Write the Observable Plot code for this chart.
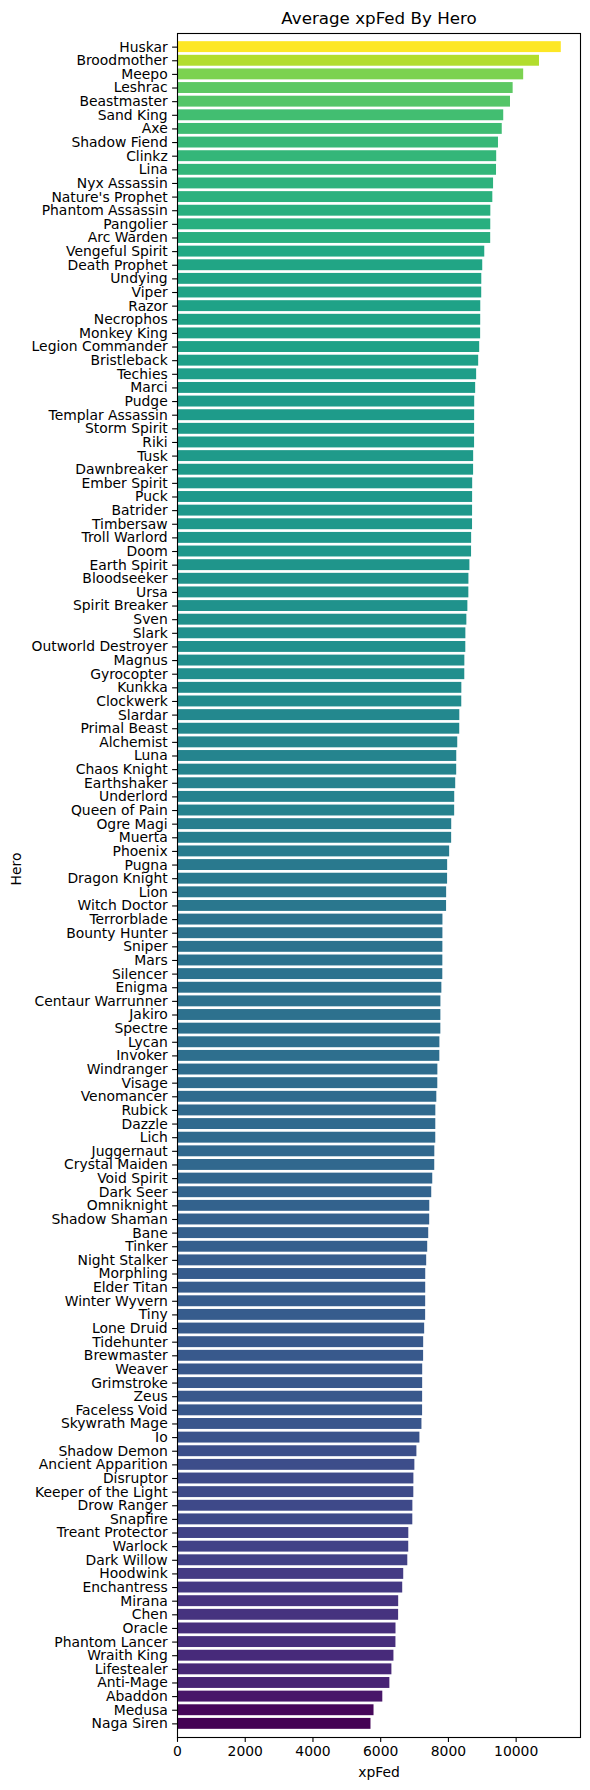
<!DOCTYPE html>
<html>
<head>
<meta charset="utf-8">
<script src="https://cdn.jsdelivr.net/npm/d3@7"></script>
<script src="https://cdn.jsdelivr.net/npm/@observablehq/plot@0.6"></script>
<style>
  html, body { margin: 0; padding: 0; background: #fff; }
  #chart svg { display: block; }
</style>
</head>
<body>
<div id="chart"></div>
<script>
const titleText = "Average xpFed By Hero";
const xLabel = "xpFed";
const yLabel = "Hero";

const heroes = [
  "Huskar","Broodmother","Meepo","Leshrac","Beastmaster","Sand King","Axe","Shadow Fiend","Clinkz","Lina",
  "Nyx Assassin","Nature's Prophet","Phantom Assassin","Pangolier","Arc Warden","Vengeful Spirit","Death Prophet","Undying","Viper","Razor",
  "Necrophos","Monkey King","Legion Commander","Bristleback","Techies","Marci","Pudge","Templar Assassin","Storm Spirit","Riki",
  "Tusk","Dawnbreaker","Ember Spirit","Puck","Batrider","Timbersaw","Troll Warlord","Doom","Earth Spirit","Bloodseeker",
  "Ursa","Spirit Breaker","Sven","Slark","Outworld Destroyer","Magnus","Gyrocopter","Kunkka","Clockwerk","Slardar",
  "Primal Beast","Alchemist","Luna","Chaos Knight","Earthshaker","Underlord","Queen of Pain","Ogre Magi","Muerta","Phoenix",
  "Pugna","Dragon Knight","Lion","Witch Doctor","Terrorblade","Bounty Hunter","Sniper","Mars","Silencer","Enigma",
  "Centaur Warrunner","Jakiro","Spectre","Lycan","Invoker","Windranger","Visage","Venomancer","Rubick","Dazzle",
  "Lich","Juggernaut","Crystal Maiden","Void Spirit","Dark Seer","Omniknight","Shadow Shaman","Bane","Tinker","Night Stalker",
  "Morphling","Elder Titan","Winter Wyvern","Tiny","Lone Druid","Tidehunter","Brewmaster","Weaver","Grimstroke","Zeus",
  "Faceless Void","Skywrath Mage","Io","Shadow Demon","Ancient Apparition","Disruptor","Keeper of the Light","Drow Ranger","Snapfire","Treant Protector",
  "Warlock","Dark Willow","Hoodwink","Enchantress","Mirana","Chen","Oracle","Phantom Lancer","Wraith King","Lifestealer",
  "Anti-Mage","Abaddon","Medusa","Naga Siren"
];

const xpFed = [
  11333,10689,10222,9911,9833,9633,9589,9478,9425,9420,
  9333,9311,9252,9250,9248,9073,9013,8985,8983,8955,
  8953,8951,8923,8893,8833,8804,8776,8774,8773,8772,
  8745,8743,8716,8714,8713,8712,8685,8683,8634,8605,
  8603,8574,8544,8515,8513,8485,8483,8396,8394,8336,
  8334,8275,8246,8244,8215,8186,8184,8097,8095,8036,
  7977,7975,7947,7945,7838,7837,7836,7835,7834,7806,
  7778,7777,7776,7748,7746,7688,7686,7657,7628,7627,
  7626,7598,7596,7537,7507,7449,7447,7418,7388,7358,
  7330,7329,7328,7327,7298,7269,7267,7240,7239,7238,
  7237,7218,7158,7069,7009,6980,6978,6950,6948,6830,
  6828,6800,6680,6650,6531,6529,6452,6450,6391,6331,
  6271,6062,5803,5713
];

const xTicks = [0, 2000, 4000, 6000, 8000, 10000];
const xDomain = [0, 11900];

const data = heroes.map((hero, i) => ({hero, xp: xpFed[i]}));

const font = "DejaVu Sans, sans-serif";

const chart = Plot.plot({
  width: 590,
  height: 1790,
  marginLeft: 177,
  marginRight: 10,
  marginTop: 33,
  marginBottom: 53,
  style: {fontFamily: font, background: "#fff", color: "#000"},
  x: {domain: xDomain, label: null},
  y: {domain: heroes, paddingInner: 0.2, paddingOuter: 0.6, label: null},
  color: {type: "linear", scheme: "viridis", domain: [d3.min(xpFed), d3.max(xpFed)]},
  marks: [
    Plot.barX(data, {x: "xp", y: "hero", fill: "xp"}),
    Plot.frame({stroke: "#000", strokeWidth: 1.1}),
    Plot.axisX({ticks: xTicks, tickSize: 4.9, tickPadding: 4, fontSize: 13.9, label: null, tickFormat: d => String(d), strokeWidth: 1.1}),
    Plot.axisY({tickSize: 4.9, tickPadding: 4.9, fontSize: 13.9, label: null, strokeWidth: 1.1}),
    Plot.text([titleText], {frameAnchor: "top", dy: -15, fontSize: 16.7, lineAnchor: "middle", fill: "#000"}),
    Plot.text([xLabel], {frameAnchor: "bottom", dy: 35, fontSize: 13.9, lineAnchor: "middle", fill: "#000"}),
    Plot.text([yLabel], {frameAnchor: "left", dx: -161, rotate: -90, fontSize: 13.9, lineAnchor: "middle", fill: "#000"})
  ]
});

document.getElementById("chart").appendChild(chart);
</script>
</body>
</html>
